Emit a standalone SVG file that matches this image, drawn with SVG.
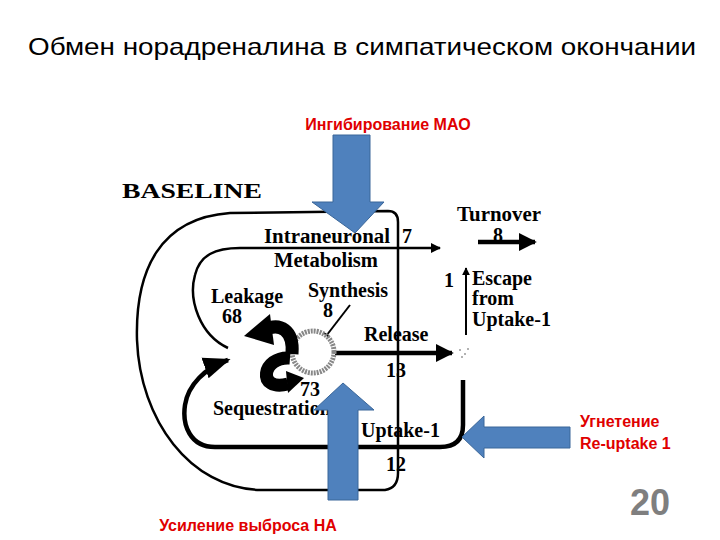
<svg xmlns="http://www.w3.org/2000/svg" width="720" height="540" viewBox="0 0 720 540">
<defs>
<marker id="ah" viewBox="0 0 10 10" refX="9" refY="5" markerWidth="4" markerHeight="4" orient="auto"><path d="M0,0 L10,5 L0,10 z" fill="#000"/></marker>
<marker id="ahs" viewBox="0 0 10 10" refX="9" refY="5" markerWidth="6" markerHeight="6" orient="auto"><path d="M0,1 L10,5 L0,9 z" fill="#000"/></marker>
</defs>
<style>
.t{font-family:"Liberation Sans",Arial,sans-serif;fill:#000}
.r{font-family:"Liberation Sans",Arial,sans-serif;font-weight:bold;font-size:16px;fill:#e00000}
.s{font-family:"Liberation Serif","Times New Roman",serif;font-weight:bold;fill:#000;font-size:20px}
.ln{fill:none;stroke:#000}
.curl{fill:none;stroke:#000;stroke-width:13}
.blue{fill:#4f81bd;stroke:#3a6699;stroke-width:1}
</style>
<rect width="720" height="540" fill="#fff"/>
<text class="t" x="28" y="55" font-size="24" textLength="668" lengthAdjust="spacingAndGlyphs">Обмен норадреналина в симпатическом окончании</text>
<text class="s" x="122" y="198" font-size="25" textLength="140" lengthAdjust="spacingAndGlyphs">BASELINE</text>
<g id="connectors">
<path class="ln" stroke-width="2.5" d="M388,211 L230,213 C160,218 135,270 137,340 C140,420 190,488 260,490 L385,490 Q398,488 398,473 L398,222 Q398,211 388,211"/>
<path class="ln" stroke-width="2.5" d="M228,348 C200,335 188,300 195,275 C200,255 215,248 240,248 L440,248" marker-end="url(#ah)"/>
<path class="ln" stroke-width="4.5" d="M463,380 L463,425 Q463,447 440,447 L215,447 C190,447 182,425 185,405 C188,385 205,368 228,360" marker-end="url(#ahs)"/>
<path class="ln" stroke-width="4.5" d="M335,353 L452,353" marker-end="url(#ah)"/>
<path class="ln" stroke-width="2" d="M466,335 L466,268" marker-end="url(#ah)"/>
<path class="ln" stroke-width="4.5" d="M478,242 L535,242" marker-end="url(#ah)"/>
<path class="ln" stroke-width="2" d="M350,305 L323,340" marker-end="url(#ah)"/>
</g>
<g id="vesicle">
<circle cx="313" cy="352" r="21" fill="#fff" stroke="#888" stroke-width="5" stroke-dasharray="2 1"/>
<path class="curl" d="M292,354 C294,330 280,322 264,330"/>
<path d="M270,314 L244,336 L274,345 z" fill="#000"/>
<path class="curl" d="M290,358 C262,356 256,392 288,384"/>
<path d="M286,371 L304,378 L288,393 z" fill="#000"/>
</g>
<g id="labels">
<text class="s" x="264" y="243" textLength="126" lengthAdjust="spacingAndGlyphs">Intraneuronal</text>
<text class="s" x="402" y="243">7</text>
<text class="s" x="274" y="267" textLength="104" lengthAdjust="spacingAndGlyphs">Metabolism</text>
<text class="s" x="457" y="221" textLength="84" lengthAdjust="spacingAndGlyphs">Turnover</text>
<text class="s" x="493" y="242">8</text>
<text class="s" x="444" y="287">1</text>
<text class="s" x="472" y="285">Escape</text>
<text class="s" x="472" y="305">from</text>
<text class="s" x="472" y="326">Uptake-1</text>
<text class="s" x="211" y="303">Leakage</text>
<text class="s" x="222" y="323">68</text>
<text class="s" x="308" y="297">Synthesis</text>
<text class="s" x="323" y="317">8</text>
<text class="s" x="364" y="341">Release</text>
<text class="s" x="386" y="377">13</text>
<text class="s" x="300" y="396">73</text>
<text class="s" x="213" y="415">Sequestration</text>
<text class="s" x="361" y="437">Uptake-1</text>
<text class="s" x="386" y="471">12</text>
<text x="630" y="515" font-size="36" font-weight="bold" style="font-family:'Liberation Sans',Arial,sans-serif;fill:#7f7f7f">20</text>
</g>
<g id="arrow-mao">
<path class="blue" d="M333,135 L370,135 L370,202 L384,202 L355,233 L312,202 L333,202 z"/>
<text class="r" x="388" y="130" text-anchor="middle">Ингибирование МАО</text>
</g>
<g id="arrow-release">
<path class="blue" d="M328,500 L358,500 L358,410 L374,410 L343,383 L314,410 L328,410 z"/>
<text class="r" x="248" y="531" text-anchor="middle">Усиление выброса НА</text>
</g>
<g id="arrow-uptake">
<path class="blue" d="M570,427 L570,448 L484,448 L484,458 L462,437 L484,416 L484,427 z"/>
<text class="r" x="580" y="427">Угнетение</text>
<text class="r" x="580" y="449">Re-uptake 1</text>
</g>
<g fill="#999"><circle cx="460" cy="350" r="1"/><circle cx="465" cy="354" r="1"/><circle cx="462" cy="357" r="1"/><circle cx="468" cy="349" r="1"/></g>
</svg>
